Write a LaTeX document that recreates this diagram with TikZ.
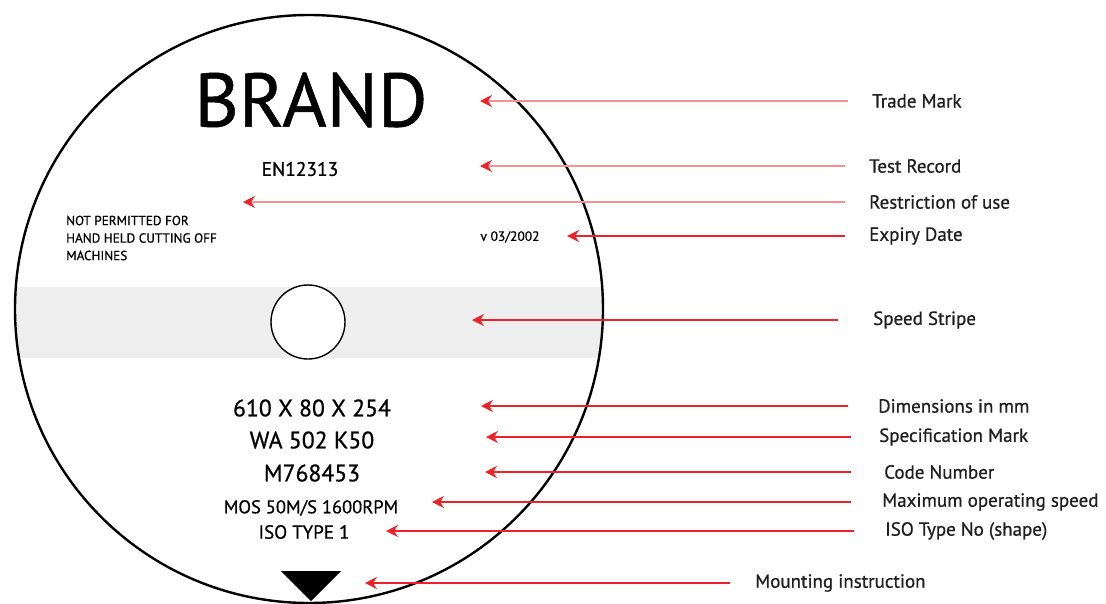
\documentclass[tikz,border=0pt]{standalone}
\usepackage{fontspec}
\setmainfont{PT Sans}[FakeBold=0.7]
\usetikzlibrary{arrows.meta}
\definecolor{arrred}{HTML}{EC2229}
\definecolor{stripe}{HTML}{EDEEED}
\tikzset{
  lbl/.style={anchor=west,inner sep=0pt,font=\fontsize{19}{19}\selectfont,text=black!88},
  disktext/.style={inner sep=0pt,text=black},
  arr/.style={draw=arrred,line width=1.6pt,-{Stealth[length=12pt,width=12pt,inset=4pt,fill=arrred,color=arrred]}},
  arrpale/.style={arr,draw=arrred!50}
}
\begin{document}
\begin{tikzpicture}[x=1pt,y=-1pt]
\useasboundingbox (0,0) rectangle (1106,603);
% disk
\coordinate (c) at (309,309);
\begin{scope}
  \clip (c) circle (294);
  \fill[stripe] (0,287) rectangle (620,358);
\end{scope}
\draw[line width=2.4pt] (c) circle (294);
\node[circle,draw=black,line width=1.4pt,fill=white,minimum size=74pt,inner sep=0pt] (hole) at (308,322) {};
\fill (281,571) -- (341,571) -- (311,601) -- cycle;
% disk texts
\node[disktext,font=\fontsize{76}{76}\selectfont] (brand) at (311,100) {BRAND};
\node[disktext,font=\fontsize{19.5}{19.5}\selectfont] (en) at (300,169) {EN12313};
\node[disktext,font=\fontsize{13.2}{17.5}\selectfont,align=left,anchor=west] (restr) at (66,238) {NOT PERMITTED FOR\\HAND HELD CUTTING OFF\\MACHINES};
\node[disktext,font=\fontsize{13.5}{13.5}\selectfont] (exp) at (510,237) {v 03/2002};
\node[disktext,font=\fontsize{23.7}{23.7}\selectfont] (dim) at (312,408) {610 X 80 X 254};
\node[disktext,font=\fontsize{23.7}{23.7}\selectfont] (spec) at (312,440) {WA 502 K50};
\node[disktext,font=\fontsize{23.7}{23.7}\selectfont] (code) at (312,473) {M768453};
\node[disktext,font=\fontsize{18.5}{18.5}\selectfont] (mos) at (311,508) {MOS 50M/S 1600RPM};
\node[disktext,font=\fontsize{19}{19}\selectfont] (iso) at (304,532) {ISO TYPE 1};
% arrow tips
\coordinate (t1) at (480,101);
\coordinate (t2) at (480,166);
\coordinate (t3) at (243,202);
\coordinate (t4) at (567,236);
\coordinate (t5) at (472,320);
\coordinate (t6) at (481,406);
\coordinate (t7) at (486,437);
\coordinate (t8) at (485,472);
\coordinate (t9) at (432,502);
\coordinate (t10) at (386,531);
\coordinate (t11) at (365,583);
% labels
\node[lbl] (l1) at (872,101) {Trade Mark};
\node[lbl] (l2) at (869,166) {Test Record};
\node[lbl] (l3) at (869,202) {Restriction of use};
\node[lbl] (l4) at (869,236) {Expiry Date};
\node[lbl] (l5) at (873,320) {Speed Stripe};
\node[lbl] (l6) at (878,406) {Dimensions in mm};
\node[lbl] (l7) at (879,437) {Specification Mark};
\node[lbl] (l8) at (884,472) {Code Number};
\node[lbl] (l9) at (882,502) {Maximum operating speed};
\node[lbl] (l10) at (885,531) {ISO Type No (shape)};
\node[lbl] (l11) at (755,583) {Mounting instruction};
% arrows
\draw[arrpale,shorten <=24pt] (l1.west) -- (t1);
\draw[arrpale,shorten <=24pt] (l2.west) -- (t2);
\draw[arrpale,shorten <=24pt] (l3.west) -- (t3);
\draw[arr,shorten <=24pt] (l4.west) -- (t4);
\draw[arr,shorten <=35pt] (l5.west) -- (t5);
\draw[arr,shorten <=30pt] (l6.west) -- (t6);
\draw[arr,shorten <=28pt] (l7.west) -- (t7);
\draw[arr,shorten <=33pt] (l8.west) -- (t8);
\draw[arr,shorten <=31pt] (l9.west) -- (t9);
\draw[arr,shorten <=31pt] (l10.west) -- (t10);
\draw[arr,shorten <=25pt] (l11.west) -- (t11);
\end{tikzpicture}
\end{document}
